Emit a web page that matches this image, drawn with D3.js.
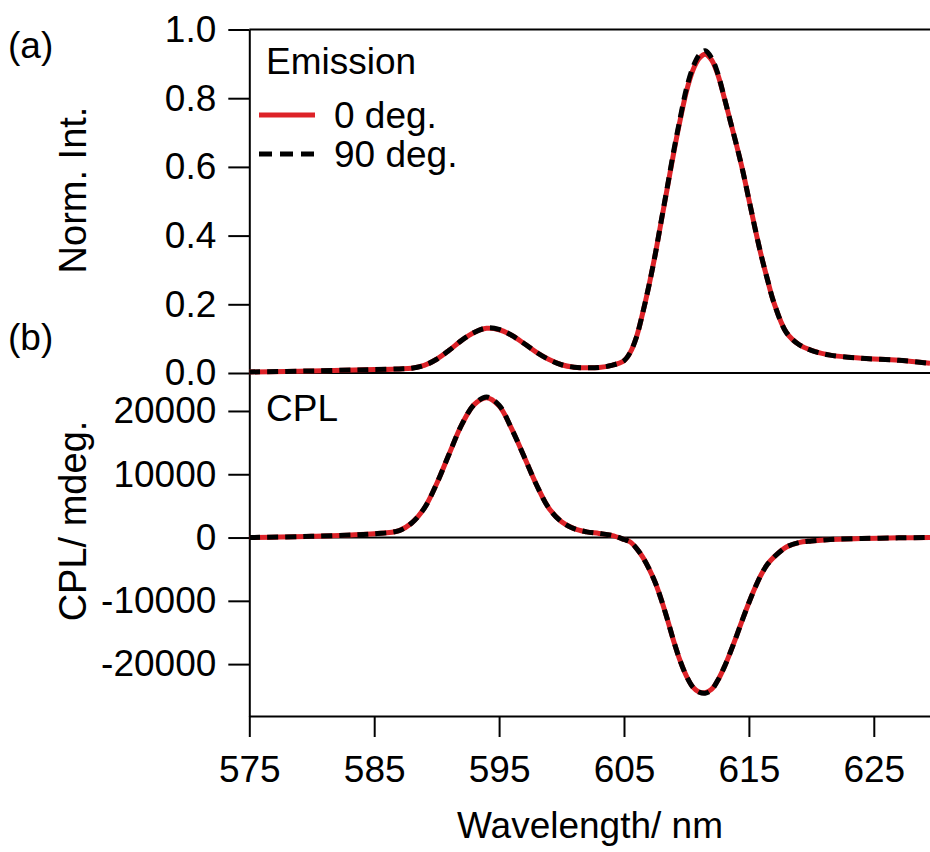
<!DOCTYPE html>
<html>
<head>
<meta charset="utf-8">
<script src="https://cdn.jsdelivr.net/npm/d3@7"></script>
<style>
  body { margin: 0; background: #fff; }
  svg { display: block; font-family: "Liberation Sans", Arial, sans-serif; }
  .axis path, .axis line { stroke: #000; stroke-width: 2px; }
  .axis text { font-size: 37px; fill: #000; }
</style>
</head>
<body>
<div id="chart"></div>
<script>
// wavelength grid (nm)
const wavelengths = [575, 580, 585, 587, 588, 589, 590, 591, 592, 593, 594, 595, 596, 597, 598, 599, 600, 601, 602, 603, 604, 605, 605.5, 606, 606.5, 607, 607.5, 608, 608.5, 609, 609.5, 610, 610.5, 611, 611.5, 612, 612.5, 613, 613.5, 614, 614.5, 615, 615.5, 616, 616.5, 617, 618, 619, 620, 621.5, 624, 627, 629.5];

// normalized emission intensity
const emission0 = [0.003, 0.006, 0.010, 0.012, 0.014, 0.022, 0.040, 0.066, 0.095, 0.118, 0.130, 0.126, 0.110, 0.086, 0.060, 0.039, 0.024, 0.017, 0.015, 0.016, 0.022, 0.036, 0.060, 0.105, 0.175, 0.255, 0.345, 0.445, 0.545, 0.645, 0.737, 0.820, 0.880, 0.915, 0.928, 0.912, 0.870, 0.805, 0.735, 0.665, 0.590, 0.505, 0.420, 0.340, 0.270, 0.205, 0.118, 0.083, 0.066, 0.052, 0.043, 0.037, 0.028];
const emission90 = [0.003, 0.006, 0.010, 0.012, 0.014, 0.022, 0.040, 0.066, 0.095, 0.118, 0.131, 0.127, 0.110, 0.086, 0.060, 0.039, 0.024, 0.017, 0.015, 0.016, 0.022, 0.036, 0.060, 0.105, 0.175, 0.255, 0.345, 0.447, 0.548, 0.650, 0.742, 0.828, 0.888, 0.925, 0.938, 0.918, 0.873, 0.806, 0.735, 0.665, 0.590, 0.505, 0.420, 0.340, 0.270, 0.205, 0.118, 0.083, 0.066, 0.052, 0.043, 0.037, 0.028];

// CPL in mdeg
const cpl0 = [0, 200, 600, 1100, 2300, 4600, 8500, 13200, 17800, 21000, 22100, 20800, 17200, 12800, 8300, 4600, 2500, 1400, 900, 650, 350, -300, -700, -1700, -3100, -4900, -7100, -9900, -13100, -16500, -19500, -21900, -23600, -24400, -24500, -24000, -22600, -20600, -18200, -15600, -12900, -10300, -7900, -5800, -4200, -3100, -1500, -800, -550, -300, -150, -50, 0];
const cpl90 = [0, 200, 600, 1100, 2300, 4600, 8500, 13200, 17800, 21000, 22200, 20900, 17200, 12800, 8300, 4600, 2500, 1400, 900, 650, 350, -300, -700, -1700, -3100, -4900, -7100, -9900, -13100, -16500, -19500, -21900, -23600, -24400, -24600, -24100, -22600, -20600, -18200, -15600, -12900, -10300, -7900, -5800, -4200, -3100, -1500, -800, -550, -300, -150, -50, 0];

const xTicks = [575, 585, 595, 605, 615, 625];
const emTicks = [0, 0.2, 0.4, 0.6, 0.8, 1.0];
const cplTicks = [-20000, -10000, 0, 10000, 20000];

const width = 930, height = 852;
const left = 249.3, right = 930;

const svg = d3.select("#chart").append("svg")
  .attr("width", width)
  .attr("height", height);

const x = d3.scaleLinear().domain([575, 629.5]).range([left, right]);
const yEm = d3.scaleLinear().domain([0, 1]).range([373, 29.5]);
const yCpl = d3.scaleLinear().domain([-28200, 26000]).range([716, 373]);

// axes
svg.append("g")
  .attr("class", "axis")
  .attr("transform", `translate(${left},0)`)
  .call(d3.axisLeft(yEm).tickValues(emTicks).tickFormat(d => d.toFixed(1))
    .tickSize(21).tickSizeOuter(0).tickPadding(12));

svg.append("g")
  .attr("class", "axis")
  .attr("transform", `translate(${left},0)`)
  .call(d3.axisLeft(yCpl).tickValues(cplTicks).tickFormat(d => String(d))
    .tickSize(21).tickSizeOuter(0).tickPadding(12));

svg.append("g")
  .attr("class", "axis")
  .attr("transform", `translate(0,${yCpl.range()[0]})`)
  .call(d3.axisBottom(x).tickValues(xTicks).tickFormat(d => String(d))
    .tickSize(21).tickSizeOuter(0).tickPadding(19));

// frame top + zero lines
[yEm(1), yEm(0), yCpl(0)].forEach(yy => {
  svg.append("line")
    .attr("x1", left).attr("x2", right)
    .attr("y1", yy).attr("y2", yy)
    .attr("stroke", "#000").attr("stroke-width", 2);
});

// curves
const lineEm = d3.line()
  .x((d, i) => x(wavelengths[i]))
  .y(d => yEm(d))
  .curve(d3.curveCatmullRom);
const lineCpl = d3.line()
  .x((d, i) => x(wavelengths[i]))
  .y(d => yCpl(d))
  .curve(d3.curveCatmullRom);

const red = "#dd2228";
const dash = "11,7";

svg.append("path").datum(emission0).attr("d", lineEm)
  .attr("fill", "none").attr("stroke", red).attr("stroke-width", 5);
svg.append("path").datum(emission90).attr("d", lineEm)
  .attr("fill", "none").attr("stroke", "#000").attr("stroke-width", 5)
  .attr("stroke-dasharray", dash);

svg.append("path").datum(cpl0).attr("d", lineCpl)
  .attr("fill", "none").attr("stroke", red).attr("stroke-width", 5);
svg.append("path").datum(cpl90).attr("d", lineCpl)
  .attr("fill", "none").attr("stroke", "#000").attr("stroke-width", 5)
  .attr("stroke-dasharray", dash);

// texts
const txt = (tx, ty, s, anchor) => svg.append("text")
  .attr("x", tx).attr("y", ty)
  .attr("text-anchor", anchor || "start")
  .style("font-size", "37px")
  .text(s);

txt(8, 58, "(a)");
txt(8, 350, "(b)");
txt(266, 74, "Emission");
txt(334, 128, "0 deg.");
txt(334, 167, "90 deg.");
txt(266, 421, "CPL");
txt(590, 838, "Wavelength/ nm", "middle");

svg.append("text")
  .attr("transform", `translate(86,190) rotate(-90)`)
  .attr("text-anchor", "middle")
  .style("font-size", "38px")
  .text("Norm. Int.");

svg.append("text")
  .attr("transform", `translate(86,521) rotate(-90)`)
  .attr("text-anchor", "middle")
  .style("font-size", "38px")
  .text("CPL/ mdeg.");

// legend swatches
svg.append("line")
  .attr("x1", 259).attr("x2", 315).attr("y1", 115).attr("y2", 115)
  .attr("stroke", red).attr("stroke-width", 5);
svg.append("line")
  .attr("x1", 259).attr("x2", 315).attr("y1", 154).attr("y2", 154)
  .attr("stroke", "#000").attr("stroke-width", 5)
  .attr("stroke-dasharray", "13,8");
</script>
</body>
</html>
